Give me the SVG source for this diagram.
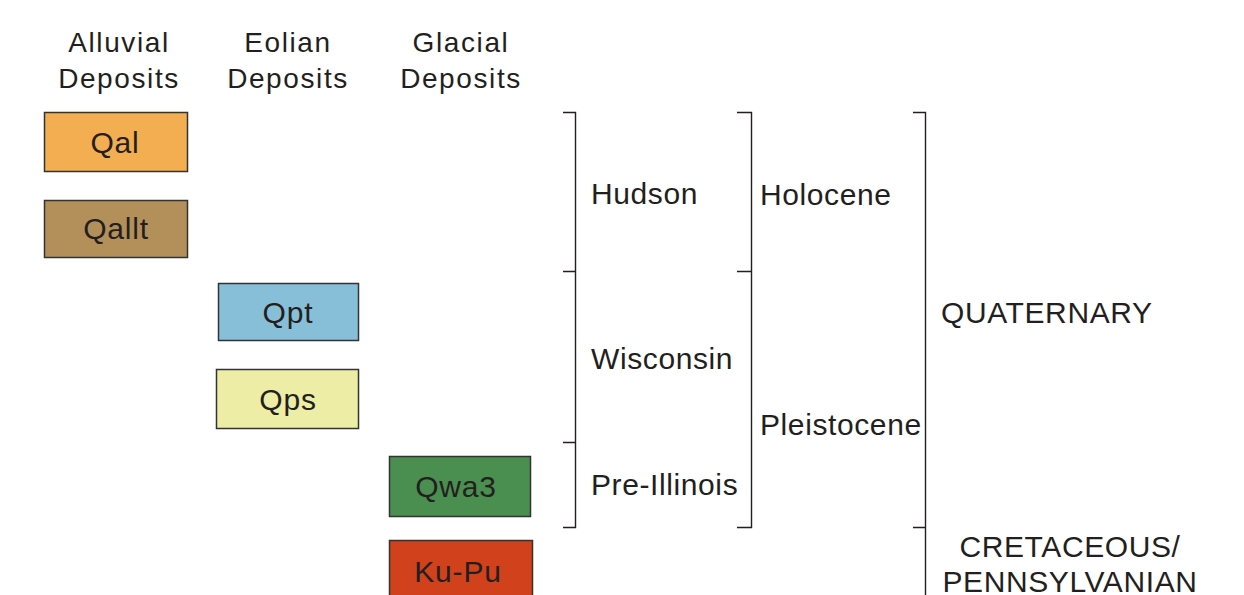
<svg xmlns="http://www.w3.org/2000/svg" width="1244" height="595" viewBox="0 0 1244 595">
<style>
text{font-family:"Liberation Sans",Arial,sans-serif;fill:#231f20}
.h{font-size:28px;letter-spacing:1.6px;text-anchor:middle}
.b{font-size:30px;letter-spacing:0.8px;text-anchor:middle}
.l{font-size:30px;letter-spacing:0.6px}
.box{stroke:#333;stroke-width:1.5}
.br{fill:none;stroke:#231f20;stroke-width:1.4}
</style>
<rect width="1244" height="595" fill="#fff"/>
<g id="headers">
<text class="h" x="119" y="52">Alluvial</text><text class="h" x="119" y="88">Deposits</text>
<text class="h" x="288" y="52">Eolian</text><text class="h" x="288" y="88">Deposits</text>
<text class="h" x="461" y="52">Glacial</text><text class="h" x="461" y="88">Deposits</text>
</g>
<g id="Qal"><rect class="box" x="44.5" y="112.5" width="143" height="59" fill="#f2ae50"/><text class="b" x="115" y="153">Qal</text></g>
<g id="Qallt"><rect class="box" x="44.5" y="200.5" width="143" height="57" fill="#b3905a"/><text class="b" x="116" y="239">Qallt</text></g>
<g id="Qpt"><rect class="box" x="218.5" y="283.5" width="140" height="57" fill="#87bfd8"/><text class="b" x="288" y="323">Qpt</text></g>
<g id="Qps"><rect class="box" x="216.5" y="369.5" width="142" height="59" fill="#ededa6"/><text class="b" x="288" y="410">Qps</text></g>
<g id="Qwa3"><rect class="box" x="389.5" y="456.5" width="141" height="60" fill="#4a8f4f"/><text class="b" x="456" y="497">Qwa3</text></g>
<g id="KuPu"><rect class="box" x="389.5" y="540.5" width="143" height="64" fill="#d0411c"/><text class="b" x="458" y="582">Ku-Pu</text></g>
<g id="connectors">
<path class="br" d="M563 112.5H575.5V527.5H563M563 271.5H575.5M563 442.5H575.5"/>
<path class="br" d="M737 112.5H751.5V527.5H737M737 271.5H751.5"/>
<path class="br" d="M913 112.5H925.5V600M913 527.5H925.5"/>
</g>
<g id="labels">
<text class="l" x="591" y="204">Hudson</text>
<text class="l" x="591" y="369">Wisconsin</text>
<text class="l" x="591" y="495">Pre-Illinois</text>
<text class="l" x="760" y="205">Holocene</text>
<text class="l" x="760" y="435">Pleistocene</text>
<text class="l" x="941" y="323">QUATERNARY</text>
<text class="l" x="1070" y="557" text-anchor="middle">CRETACEOUS/</text>
<text class="l" x="1070" y="592" text-anchor="middle">PENNSYLVANIAN</text>
</g>
</svg>
